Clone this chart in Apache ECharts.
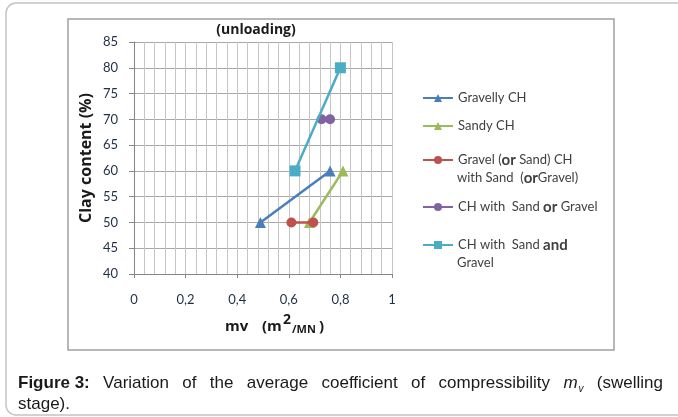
<!DOCTYPE html>
<html><head><meta charset="utf-8">
<script src="https://cdn.jsdelivr.net/npm/echarts@6/dist/echarts.min.js"></script>
<style>html,body{margin:0;padding:0;background:#fff}#c{width:678px;height:417px}</style>
</head><body><div id="c"></div>
<script>
// ---- data ----
const seriesNames = ['Gravelly CH', 'Sandy CH', 'Gravel (or Sand) CH with Sand (or Gravel)', 'CH with Sand or Gravel', 'CH with Sand and Gravel'];
const gravellyCH      = [[0.49, 50], [0.76, 60]];
const sandyCH         = [[0.68, 50], [0.81, 60]];
const gravelSandCH    = [[0.61, 50], [0.695, 50]];
const chSandOrGravel  = [[0.727, 70], [0.76, 70]];
const chSandAndGravel = [[0.624, 60], [0.80, 80]];
const yMin = 40, yMax = 85, yStep = 5;
const xMin = 0, xMax = 1, xStep = 0.2;

// ---- style ----
const colors = ['#4A7EBB', '#9BBB59', '#C0504D', '#8064A2', '#4BACC6'];
const symbols = ['triangle', 'triangle', 'circle', 'circle', 'rect'];
const symbolSizes = [11, 11, 10, 10, 11];
const datasets = [gravellyCH, sandyCH, gravelSandCH, chSandOrGravel, chSandAndGravel];
const FONT = 'Lato';
const BFONT = 'Open Sans';
const CAP = 'Liberation Sans';
const CAPSIZE = 17;
const TB = '#1a1a1a';

const legendFormats = [
  'Gravelly CH',
  'Sandy CH',
  'Gravel ({b|or} Sand) CH',
  'CH with  Sand {b|or} Gravel',
  'CH with  Sand {c|and}'
];
const legendCenters = [98, 126, 160, 207, 245];

const chart = echarts.init(document.getElementById('c'), null, {renderer: 'canvas'});

const series = datasets.map((d, i) => ({
  name: seriesNames[i],
  type: 'line',
  data: d,
  symbol: symbols[i],
  symbolSize: symbolSizes[i],
  showSymbol: true,
  lineStyle: {color: colors[i], width: 2.5},
  itemStyle: {color: colors[i]},
  emphasis: {disabled: true},
  z: 3 + i
}));

const legends = seriesNames.map((n, i) => ({
  data: [n],
  left: 422,
  top: legendCenters[i] - 8,
  orient: 'vertical',
  padding: 0,
  itemWidth: 30,
  itemHeight: 10,
  itemGap: 0,
  selectedMode: false,
  formatter: () => legendFormats[i],
  textStyle: {
    fontFamily: FONT, fontSize: 13, color: '#404040', lineHeight: 16, padding: [0, 0, 0, 0],
    rich: {
      b: {fontFamily: FONT, fontSize: 15, fontWeight: 'bold', color: '#404040', lineHeight: 16},
      c: {fontFamily: FONT, fontSize: 15, fontWeight: 'bold', color: '#404040', lineHeight: 16}
    }
  }
}));

const richLegend = {
  a: {fontFamily: FONT, fontSize: 13, fill: '#404040'},
  b: {fontFamily: FONT, fontSize: 15, fontWeight: 'bold', fill: '#404040'}
};

// ---- caption, justified line 1 ----
const capWords = ['Figure 3:', 'Variation', 'of', 'the', 'average', 'coefficient', 'of', 'compressibility', 'MV', '(swelling'];
const capLeft = 18, capRight = 663, capY = 383;
const fontReg = CAPSIZE + 'px "' + CAP + '"';
const fontBold = 'bold ' + CAPSIZE + 'px "' + CAP + '"';
const fontItal = 'italic ' + CAPSIZE + 'px "' + CAP + '"';
const fontSub = 'italic 10px "' + CAP + '"';
const mctx = document.createElement('canvas').getContext('2d');
function tw(t, f) { mctx.font = f; return mctx.measureText(t).width; }
const wordFont = (w, i) => i === 0 ? fontBold : fontReg;
const widths = capWords.map((w, i) => w === 'MV' ? tw('m', fontItal) + 1 + tw('v', fontSub) : tw(w, wordFont(w, i)));
const totalW = widths.reduce((a, b) => a + b, 0);
const gap = (capRight - capLeft - totalW) / (capWords.length - 1);
const capGraphics = [];
let cx = capLeft;
capWords.forEach((w, i) => {
  if (w === 'MV') {
    capGraphics.push({type: 'text', x: cx, y: capY, style: {text: 'm', font: fontItal, fill: TB, verticalAlign: 'middle'}});
    capGraphics.push({type: 'text', x: cx + tw('m', fontItal) + 1, y: capY + 6, style: {text: 'v', font: fontSub, fill: TB, verticalAlign: 'middle'}});
  } else {
    capGraphics.push({type: 'text', x: cx, y: capY, style: {text: w, font: wordFont(w, i), fill: TB, verticalAlign: 'middle'}});
  }
  cx += widths[i] + gap;
});

const graphic = [
  {type: 'rect', shape: {x: 6, y: 3, width: 720, height: 412, r: 10}, style: {fill: 'none', stroke: '#c4c4c4', lineWidth: 1.5}, z: 0, silent: true},
  {type: 'rect', shape: {x: 68, y: 19, width: 546, height: 331}, style: {fill: 'none', stroke: '#a0a0a0', lineWidth: 1.5}, z: 0, silent: true},
  {type: 'text', x: 256, y: 30, style: {text: '(unloading)', font: 'bold 14px "' + BFONT + '"', fill: TB, align: 'center', verticalAlign: 'middle'}},
  // x axis title  mv (m²/MN)
  {type: 'text', x: 225, y: 327, style: {text: 'mv', font: 'bold 15px "' + BFONT + '"', fill: TB, verticalAlign: 'middle'}},
  {type: 'text', x: 262, y: 327, style: {text: '(m', font: 'bold 15px "' + BFONT + '"', fill: TB, verticalAlign: 'middle'}},
  {type: 'text', x: 283, y: 320, style: {text: '2', font: 'bold 14px "' + BFONT + '"', fill: TB, verticalAlign: 'middle'}},
  {type: 'text', x: 292, y: 330, style: {text: '/MN', font: 'bold 11px "' + BFONT + '"', fill: TB, verticalAlign: 'middle'}},
  {type: 'text', x: 319, y: 327, style: {text: ')', font: 'bold 15px "' + BFONT + '"', fill: TB, verticalAlign: 'middle'}},
  {type: 'text', x: 457, y: 178, style: {text: '{a|with Sand  (}{b|or}{a|Gravel)}', verticalAlign: 'middle', rich: richLegend}},
  {type: 'text', x: 457, y: 263, style: {text: '{a|Gravel}', verticalAlign: 'middle', rich: richLegend}},
  {type: 'text', x: 18, y: 404, style: {text: 'stage).', font: fontReg, fill: TB, verticalAlign: 'middle'}}
].concat(capGraphics);

chart.setOption({
  animation: false,
  backgroundColor: '#fff',
  grid: {left: 134, top: 42, width: 258, height: 232, containLabel: false},
  xAxis: {
    type: 'value', min: xMin, max: xMax, interval: xStep,
    axisLine: {show: true, onZero: false, lineStyle: {color: '#868686', width: 1}},
    axisTick: {show: true, length: 4, lineStyle: {color: '#868686'}},
    axisLabel: {margin: 19, fontFamily: FONT, fontSize: 13, color: '#1f2f45',
      formatter: v => String(Math.round(v * 10) / 10).replace('.', ',')},
    splitLine: {show: true, lineStyle: {color: '#c6c6c6', width: 1}},
    minorTick: {show: false, splitNumber: 5},
    minorSplitLine: {show: true, lineStyle: {color: '#c6c6c6', width: 1}}
  },
  yAxis: {
    type: 'value', min: yMin, max: yMax, interval: yStep,
    name: 'Clay content (%)', nameLocation: 'middle', nameGap: 40, nameRotate: 90,
    nameTextStyle: {fontFamily: BFONT, fontSize: 16, fontWeight: 'bold', color: TB},
    axisLine: {show: true, lineStyle: {color: '#868686', width: 1}},
    axisTick: {show: true, length: 5, lineStyle: {color: '#868686'}},
    axisLabel: {margin: 16, fontFamily: FONT, fontSize: 13, color: '#1f2f45'},
    splitLine: {show: true, lineStyle: {color: '#a8a8a8', width: 1}}
  },
  legend: legends,
  series: series,
  graphic: graphic
});
</script>
</body></html>
